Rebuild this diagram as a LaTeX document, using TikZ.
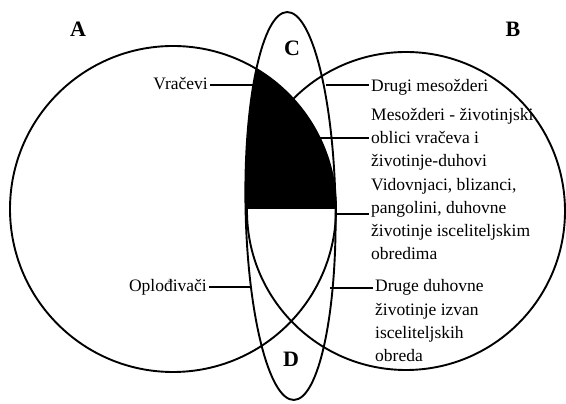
\documentclass[tikz,border=0pt]{standalone}
\usepackage{fontspec}
\setmainfont{Liberation Serif}
\begin{document}
\begin{tikzpicture}[x=1pt,y=1pt,
  setline/.style={line width=1.9pt},
  conn/.style={line width=1.1pt},
  lbl/.style={font=\fontsize{17.5}{23.3}\selectfont, inner xsep=2pt, inner ysep=0pt, align=left},
  setname/.style={font=\bfseries\fontsize{22}{22}\selectfont, inner sep=0pt, anchor=base}]
\useasboundingbox (0,0) rectangle (566,404);
\coordinate (cA) at (173,195);
\coordinate (cB) at (406,193);
\coordinate (cC) at (290.5,198);
% shaded region
\begin{scope}
  \clip (cA) circle (163pt);
  \clip[rotate around={1:(cC)}] (cC) ellipse [x radius=45pt, y radius=194pt];
  \fill (200,195) rectangle (360,404);
\end{scope}
% sets
\draw[setline] (cA) circle (163pt);
\draw[setline] (cB) circle (159pt);
\draw[setline, rotate around={1:(cC)}] (cC) ellipse [x radius=45pt, y radius=194pt];
% set names
\node[setname] (A) at (78,367.3) {A};
\node[setname] (B) at (513,367.5) {B};
\node[setname] (C) at (292,348) {C};
\node[setname] (D) at (291,37) {D};
% labels (base anchor = baseline of last line)
\node[lbl, anchor=base east] (t1) at (210,314.7) {Vračevi};
\node[lbl, anchor=base west] (t2) at (369,312.3) {Drugi mesožderi};
\node[lbl, anchor=base west] (t3) at (369,237.3) {Mesožderi - životinjski\\oblici vračeva i\\životinje-duhovi};
\node[lbl, anchor=base west] (t4) at (369,144) {Vidovnjaci, blizanci,\\pangolini, duhovne\\životinje isceliteljskim\\obredima};
\node[lbl, anchor=base west] (t5) at (373,42.3) {Druge duhovne\\životinje izvan\\isceliteljskih\\obreda};
\node[lbl, anchor=base east] (t6) at (209,112.3) {Oplođivači};
% connector ends
\coordinate (e1) at (255,319);
\coordinate (e2) at (326,319);
\coordinate (e3) at (320,266);
\coordinate (e4) at (336,190);
\coordinate (e5) at (330,116);
\coordinate (e6) at (252,117);
\draw[conn] (e1) -- (e1 -| t1.east);
\draw[conn] (e2) -- (e2 -| t2.west);
\draw[conn] (e3) -- (e3 -| t3.west);
\draw[conn] (e4) -- (e4 -| t4.west);
\draw[conn] (e5) -- (e5 -| t5.west);
\draw[conn] (e6) -- (e6 -| t6.east);
\end{tikzpicture}
\end{document}
